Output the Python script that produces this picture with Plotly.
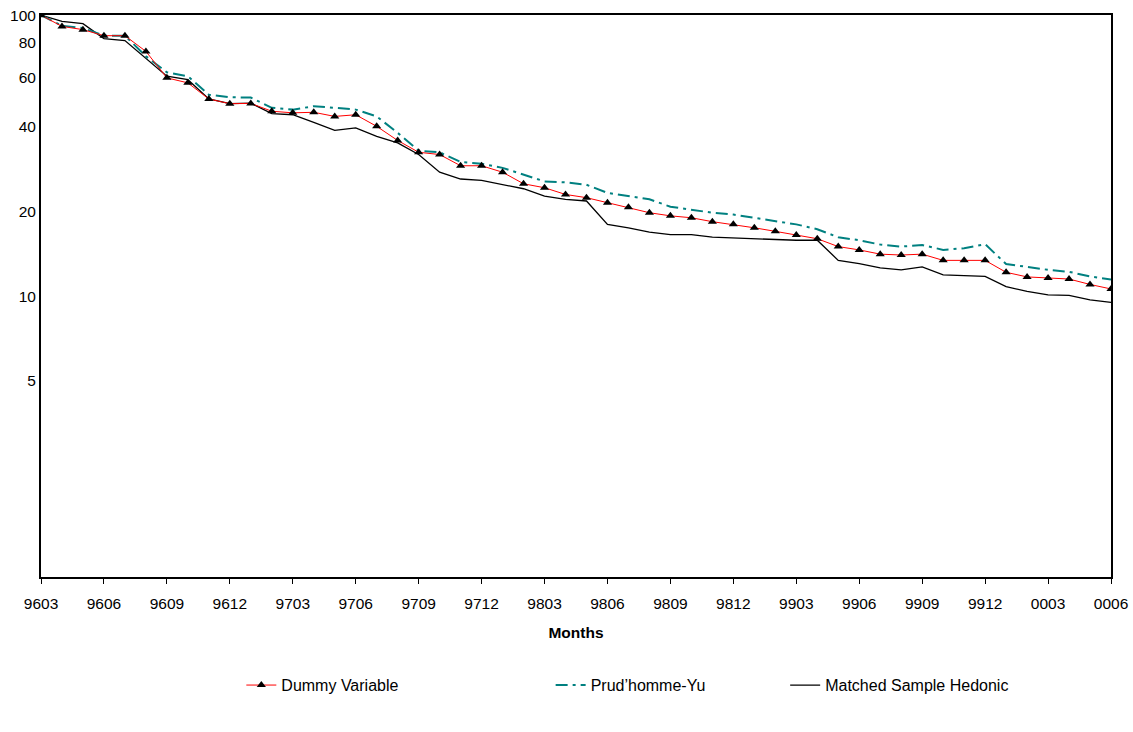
import plotly.graph_objects as go

months = ["9603", "9604", "9605", "9606", "9607", "9608", "9609", "9610", "9611", "9612",
          "9701", "9702", "9703", "9704", "9705", "9706", "9707", "9708", "9709", "9710",
          "9711", "9712", "9801", "9802", "9803", "9804", "9805", "9806", "9807", "9808",
          "9809", "9810", "9811", "9812", "9901", "9902", "9903", "9904", "9905", "9906",
          "9907", "9908", "9909", "9910", "9911", "9912", "0001", "0002", "0003", "0004",
          "0005", "0006"]

dummy_variable = [100, 91.2, 88.8, 84.5, 84.5, 74.3, 59.8, 57.4, 50.3, 48.4,
                  48.5, 45.5, 44.9, 45.1, 43.6, 44.2, 40.2, 35.8, 32.5, 31.9,
                  29.1, 29.1, 27.6, 25.1, 24.3, 23.0, 22.4, 21.5, 20.7, 19.8,
                  19.3, 19.0, 18.4, 18.0, 17.5, 17.0, 16.5, 16.0, 15.0, 14.6,
                  14.1, 14.0, 14.1, 13.4, 13.4, 13.4, 12.15, 11.7, 11.6, 11.5,
                  11.0, 10.6]

prudhomme_yu = [100, 91.7, 90.0, 84.5, 84.5, 71.4, 62.6, 60.6, 52.1, 51.0,
                50.9, 46.8, 46.1, 47.4, 46.8, 46.1, 43.6, 38.1, 32.9, 32.5,
                30.0, 29.6, 28.6, 27.1, 25.6, 25.4, 24.9, 23.3, 22.7, 22.1,
                20.8, 20.3, 19.8, 19.5, 19.0, 18.5, 18.0, 17.3, 16.2, 15.8,
                15.25, 15.0, 15.2, 14.6, 14.8, 15.3, 13.0, 12.7, 12.4, 12.2,
                11.75, 11.45]

matched_sample = [100, 95.0, 93.3, 82.5, 81.2, 70.4, 60.6, 58.9, 50.3, 48.4,
                  48.6, 44.6, 44.2, 41.5, 38.9, 39.7, 37.0, 35.1, 31.9, 27.6,
                  26.1, 25.8, 24.9, 24.1, 22.7, 22.1, 21.8, 18.0, 17.5, 16.9,
                  16.55, 16.55, 16.2, 16.1, 16.0, 15.9, 15.8, 15.8, 13.4, 13.05,
                  12.6, 12.4, 12.7, 11.9, 11.8, 11.75, 10.8, 10.4, 10.1, 10.05,
                  9.7, 9.5]

y_tick_values = [5, 10, 20, 40, 60, 80, 100]

idx = list(range(len(months)))
x_tick_idx = idx[::3]
x_tick_text = months[::3]

FONT = "Liberation Sans, Arial, sans-serif"

fig = go.Figure()

fig.add_trace(go.Scatter(
    x=idx, y=matched_sample, mode="lines", name="Matched Sample Hedonic",
    line=dict(color="#000000", width=1.3), legend="legend3"))

fig.add_trace(go.Scatter(
    x=idx, y=prudhomme_yu, mode="lines", name="Prud\u2019homme-Yu",
    line=dict(color="#008080", width=2, dash="12px,5px,3px,5px"), legend="legend2"))

fig.add_trace(go.Scatter(
    x=idx, y=dummy_variable, mode="lines+markers", name="Dummy Variable",
    line=dict(color="#FF0000", width=1),
    marker=dict(symbol="triangle-up", size=8, color="#000000"), legend="legend"))

legend_common = dict(orientation="h", xref="container", yref="container",
                     yanchor="middle", xanchor="left", y=0.064,
                     font=dict(family=FONT, size=16, color="#000000"),
                     bgcolor="rgba(0,0,0,0)")

fig.update_layout(
    width=1133, height=732,
    margin=dict(l=41, r=22, t=15, b=155, autoexpand=False),
    paper_bgcolor="white", plot_bgcolor="white",
    font=dict(family=FONT, size=15, color="#000000"),
    showlegend=True,
    legend=dict(x=0.213, **legend_common),
    legend2=dict(x=0.486, **legend_common),
    legend3=dict(x=0.693, **legend_common),
    xaxis=dict(
        range=[0, len(months) - 1], automargin=False,
        tickmode="array", tickvals=x_tick_idx, ticktext=x_tick_text,
        ticks="outside", ticklen=5, tickwidth=1, tickcolor="#000000",
        showgrid=False, zeroline=False,
        showline=True, linecolor="#000000", linewidth=2, mirror=True,
        ticklabelstandoff=6,
        tickfont=dict(family=FONT, size=15.5),
        title=dict(text="<b>Months</b>", font=dict(family=FONT, size=15.5), standoff=17),
    ),
    yaxis=dict(
        type="log", range=[0, 2.0005], automargin=False,
        tickmode="array", tickvals=y_tick_values,
        ticktext=[str(v) for v in y_tick_values],
        ticks="", showgrid=False, zeroline=False,
        showline=True, linecolor="#000000", linewidth=2, mirror=True,
        tickfont=dict(family=FONT, size=15.5),
    ),
)

fig.write_html("out.html")
